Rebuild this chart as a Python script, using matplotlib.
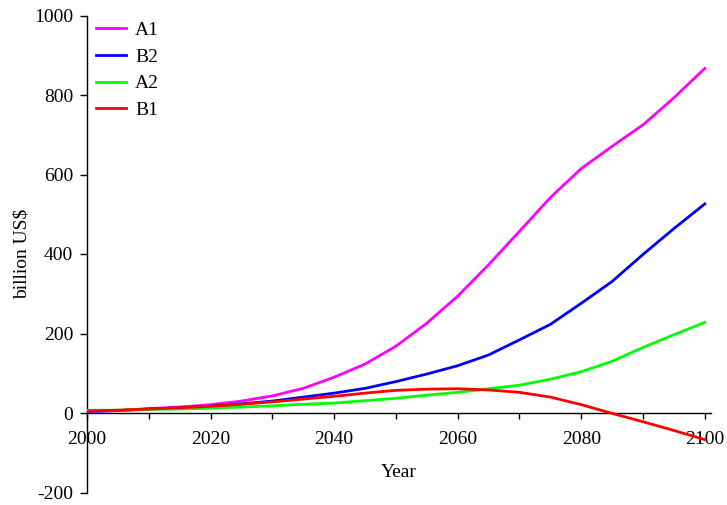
import matplotlib
matplotlib.use("Agg")
from matplotlib import pyplot as plt
from matplotlib.ticker import FixedLocator, FuncFormatter

plt.rcParams["font.family"] = ["Liberation Serif", "DejaVu Serif"]
plt.rcParams["axes.unicode_minus"] = False

years = [2000, 2005, 2010, 2015, 2020, 2025, 2030, 2035, 2040, 2045, 2050,
         2055, 2060, 2065, 2070, 2075, 2080, 2085, 2090, 2095, 2100]

a1 = [4, 6, 11, 15, 21, 30, 43, 62, 90, 123, 168,
      226, 294, 373, 457, 542, 615, 671, 725, 793, 867]
b2 = [4, 6, 10, 13, 17, 23, 30, 40, 50, 62, 79,
      98, 119, 146, 184, 223, 276, 331, 399, 464, 526]
a2 = [7, 7, 9, 10, 12, 15, 18, 22, 25, 31, 37,
      45, 52, 61, 70, 85, 104, 130, 165, 197, 228]
b1 = [5, 7, 10, 13, 17, 22, 28, 35, 42, 50, 57,
      60, 61, 58, 52, 40, 21, -1, -22, -44, -67]

series = [("A1", a1, "#ff00ff"), ("B2", b2, "#0000ff"),
          ("A2", a2, "#00ff00"), ("B1", b1, "#ff0000")]

fig = plt.figure(figsize=(7.27, 5.05), dpi=100)
ax = fig.add_axes([87 / 727, 12.5 / 505, 624 / 727, 477 / 505])

for name, vals, col in series:
    ax.plot(years, vals, color=col, lw=2.0, label=name, zorder=3)

ax.set_xlim(2000, 2101)
ax.set_ylim(-200, 1000)

# axes cross at zero, only left and bottom spines kept
ax.spines["right"].set_visible(False)
ax.spines["top"].set_visible(False)
ax.spines["bottom"].set_position(("data", 0))
ax.spines["left"].set_linewidth(1.0)
ax.spines["bottom"].set_linewidth(1.0)

ax.xaxis.set_major_locator(FixedLocator(list(range(2000, 2101, 10))))
ax.xaxis.set_major_formatter(FuncFormatter(lambda v, p: f"{int(v)}" if int(v) % 20 == 0 else ""))
ax.set_yticks(range(-200, 1001, 200))

ax.tick_params(axis="x", direction="out", length=4, width=1.0, pad=9, labelsize=14)
ax.tick_params(axis="y", direction="out", length=5, width=1.0, pad=5, labelsize=14)

ax.set_xlabel("Year", fontsize=14)
ax.xaxis.set_label_coords(0.5, 0.06)
ax.set_ylabel("billion US$", fontsize=14)
ax.yaxis.set_label_coords(-0.09, 0.5)

ax.legend(loc="upper left", frameon=False, fontsize=14, handlelength=1.55,
          handletextpad=0.45, labelspacing=0.47, borderaxespad=0.0,
          bbox_to_anchor=(0.002, 1.004))

fig.savefig("out.png", dpi=100)
